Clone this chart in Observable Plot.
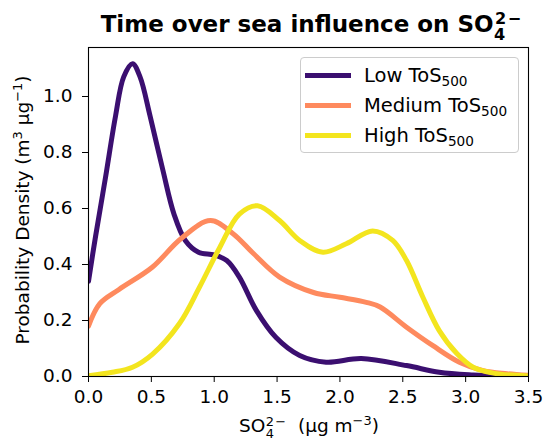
<!DOCTYPE html>
<html>
<head>
<meta charset="utf-8">
<script src="https://cdn.jsdelivr.net/npm/d3@7"></script>
<script src="https://cdn.jsdelivr.net/npm/@observablehq/plot@0.6"></script>
<style>
  body { margin: 0; background: #fff; font-family: "DejaVu Sans", sans-serif; }
  #wrap { position: relative; width: 544px; height: 440px; overflow: hidden; }
  .ov { position: absolute; white-space: nowrap; color: #000; line-height: 1.2; }
  .dn { font-size: 0.7em; position: relative; top: 0.5em; margin-left: 0.03em; }
  .up { font-size: 0.7em; position: relative; top: -0.48em; margin-left: -0.636em; }
  .sp { font-size: 0.7em; position: relative; top: -0.55em; }
  #legend { position: absolute; left: 300px; top: 57px; width: 219px; height: 96px; border: 1px solid #ccc; border-radius: 4px; background: rgba(255,255,255,0.8); box-sizing: border-box; font-size: 19.5px; }
  .li { position: absolute; left: 4px; height: 28px; display: flex; align-items: center; }
  .sw { width: 46px; height: 5px; margin-right: 13px; }
  sub { font-size: 0.7em; vertical-align: -0.3em; line-height: 0; }
</style>
</head>
<body>
<div id="wrap"></div>
<script>
// Data
const series = ["Low ToS500", "Medium ToS500", "High ToS500"];
const colors = ["#3b0f70", "#fe8a5e", "#f3e51e"];

const lowX = [0, 0.056, 0.135, 0.215, 0.28, 0.35, 0.41, 0.49, 0.59, 0.68, 0.77, 0.875, 1.0, 1.1, 1.2, 1.335, 1.49, 1.68, 1.89, 2.17, 2.53, 2.79, 3.06, 3.3, 3.5];
const lowY = [0.34, 0.50, 0.71, 0.93, 1.07, 1.117, 1.07, 0.93, 0.74, 0.58, 0.486, 0.444, 0.434, 0.414, 0.355, 0.236, 0.14, 0.075, 0.051, 0.064, 0.039, 0.015, 0.005, 0.001, 0.0];

const medX = [0, 0.09, 0.24, 0.507, 0.735, 0.97, 1.15, 1.31, 1.52, 1.79, 2.0, 2.21, 2.32, 2.53, 2.74, 2.95, 3.14, 3.33, 3.5];
const medY = [0.18, 0.26, 0.31, 0.39, 0.492, 0.557, 0.51, 0.44, 0.355, 0.30, 0.283, 0.265, 0.248, 0.176, 0.11, 0.051, 0.021, 0.01, 0.004];

const highX = [0, 0.19, 0.35, 0.51, 0.725, 0.884, 1.043, 1.2, 1.345, 1.52, 1.68, 1.865, 2.05, 2.26, 2.42, 2.53, 2.66, 2.79, 2.93, 3.06, 3.22, 3.5];
const highY = [0.003, 0.015, 0.033, 0.08, 0.19, 0.32, 0.46, 0.58, 0.61, 0.557, 0.486, 0.444, 0.474, 0.52, 0.486, 0.414, 0.283, 0.164, 0.082, 0.033, 0.012, 0.002];

const xTicks = [0, 0.5, 1.0, 1.5, 2.0, 2.5, 3.0, 3.5];
const yTicks = [0, 0.2, 0.4, 0.6, 0.8, 1.0];

const rows = [];
[[lowX, lowY], [medX, medY], [highX, highY]].forEach(([xs, ys], i) => {
  xs.forEach((x, j) => rows.push({series: series[i], x, y: ys[j]}));
});

const fmt = d3.format(".1f");
const chart = Plot.plot({
  width: 544,
  height: 440,
  marginTop: 47,
  marginBottom: 64,
  marginLeft: 88,
  marginRight: 16,
  style: {fontFamily: "DejaVu Sans, sans-serif", fontSize: "18.5px", color: "#000", background: "#fff", overflow: "visible"},
  x: {domain: [0, 3.5], ticks: xTicks, tickFormat: fmt, label: null},
  y: {domain: [0, 1.175], ticks: yTicks, tickFormat: fmt, label: null},
  color: {domain: series, range: colors},
  marks: [
    Plot.line(rows, {x: "x", y: "y", stroke: "series", z: "series", strokeWidth: 5, curve: "catmull-rom", clip: true}),
    Plot.axisX({ticks: xTicks, tickFormat: fmt, tickSize: 6, tickPadding: 7, fontSize: 18.5, label: null, stroke: "#000"}),
    Plot.axisY({ticks: yTicks, tickFormat: fmt, tickSize: 6, tickPadding: 10, fontSize: 18.5, label: null, stroke: "#000"}),
    Plot.frame({stroke: "#000", strokeWidth: 1.1})
  ]
});

const wrap = document.getElementById("wrap");
wrap.appendChild(chart);

const so4 = 'SO<span class="dn">4</span><span class="up">2&#8202;&#8722;</span>';

const title = document.createElement("div");
title.className = "ov";
title.style.cssText = "left:311px; top:11px; transform:translateX(-50%); font-weight:bold; font-size:23px;";
title.innerHTML = "Time over sea influence on " + so4;
wrap.appendChild(title);

const xl = document.createElement("div");
xl.className = "ov";
xl.style.cssText = "left:309px; top:415px; transform:translateX(-50%); font-size:18.5px;";
xl.innerHTML = so4 + "&nbsp;&nbsp;(μg m<span class='sp'>&#8722;3</span>)";
wrap.appendChild(xl);

const yl = document.createElement("div");
yl.className = "ov";
yl.style.cssText = "left:23px; top:210px; transform:translate(-50%,-50%) rotate(-90deg); font-size:18.5px;";
yl.innerHTML = "Probability Density (m<span class='sp'>3</span> μg<span class='sp'>&#8722;1</span>)";
wrap.appendChild(yl);

const lg = document.createElement("div");
lg.id = "legend";
series.forEach((s, i) => {
  const it = document.createElement("div");
  it.className = "li";
  it.style.top = (3 + i * 30) + "px";
  const name = s.replace("ToS500", "ToS<sub>500</sub>");
  it.innerHTML = `<span class="sw" style="background:${colors[i]}"></span><span>${name}</span>`;
  lg.appendChild(it);
});
wrap.appendChild(lg);
</script>
</body>
</html>
